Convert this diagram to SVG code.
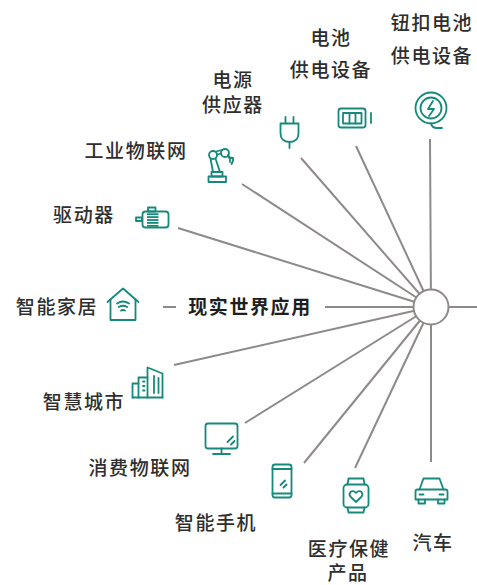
<svg xmlns="http://www.w3.org/2000/svg" width="477" height="585" viewBox="0 0 477 585">
<style>
.lbl{font-family:"Noto Sans CJK SC","Noto Sans",sans-serif;font-size:19px;font-weight:500;fill:#2e2e2e;text-anchor:middle;letter-spacing:1.6px}
.main{font-weight:bold;fill:#1e1e1e}
.ic{fill:none;stroke:#16897a;stroke-width:1.8;stroke-linecap:round;stroke-linejoin:round}
.icf{fill:#16897a;stroke:none}
.cn{stroke:#8e8a89;stroke-width:2;fill:none}
</style>
<rect width="477" height="585" fill="#ffffff"/>
<g id="connectors">
<line class="cn" x1="430" y1="139" x2="431" y2="307"/>
<line class="cn" x1="356" y1="146" x2="431" y2="307"/>
<line class="cn" x1="301" y1="158" x2="431" y2="307"/>
<line class="cn" x1="242" y1="184" x2="431" y2="307"/>
<line class="cn" x1="178" y1="228" x2="431" y2="307"/>
<line class="cn" x1="325" y1="307" x2="431" y2="307"/>
<line class="cn" x1="163" y1="307" x2="176" y2="307"/>
<line class="cn" x1="174" y1="365" x2="431" y2="307"/>
<line class="cn" x1="245" y1="423" x2="431" y2="307"/>
<line class="cn" x1="304" y1="463" x2="431" y2="307"/>
<line class="cn" x1="355" y1="468" x2="431" y2="307"/>
<line class="cn" x1="431" y1="462" x2="431" y2="307"/>
<line class="cn" x1="477" y1="307" x2="431" y2="307"/>
</g>
<g id="center">
<circle cx="431" cy="307" r="17.5" fill="#ffffff" stroke="#8e8a89" stroke-width="2"/>
</g>
<g id="main-label">
<text class="lbl main" x="250" y="314">现实世界应用</text>
</g>
<g id="node-coin">
<text class="lbl" x="432" y="30">钮扣电池</text>
<text class="lbl" x="432" y="63">供电设备</text>
<circle class="ic" cx="431" cy="108" r="15.5"/>
<circle class="ic" cx="431" cy="108" r="10.5"/>
<path class="ic" d="M433,101 L428,109 L434,109 L429,116"/>
<path class="ic" d="M431,123.5 Q432,128 437,128 L442,128"/>
</g>
<g id="node-battery">
<text class="lbl" x="331" y="45">电池</text>
<text class="lbl" x="331" y="77">供电设备</text>
<rect class="ic" x="338.5" y="108.5" width="27" height="19" rx="2.5"/>
<rect class="ic" x="343" y="113" width="18.5" height="10.5"/>
<line class="ic" x1="349.5" y1="113" x2="349.5" y2="123.5"/>
<line class="ic" x1="355.5" y1="113" x2="355.5" y2="123.5"/>
<line class="ic" x1="371" y1="113" x2="371" y2="123"/>
</g>
<g id="node-power">
<text class="lbl" x="233" y="87">电源</text>
<text class="lbl" x="233" y="112">供应器</text>
<line class="ic" x1="285.5" y1="117" x2="285.5" y2="123"/>
<line class="ic" x1="293.5" y1="117" x2="293.5" y2="123"/>
<path class="ic" d="M280.5,123.5 L298.5,123.5 L298.5,133 Q298.5,142 289.5,142 Q280.5,142 280.5,133 Z"/>
<line class="ic" x1="289.5" y1="142" x2="289.5" y2="148"/>
</g>
<g id="node-iiot">
<text class="lbl" x="136" y="158">工业物联网</text>
<rect class="ic" x="208.5" y="176.5" width="17.5" height="5.5"/>
<rect class="ic" x="211.5" y="172" width="11" height="4.5"/>
<circle class="ic" cx="213" cy="155" r="4"/>
<circle class="ic" cx="225" cy="153" r="4"/>
<line class="ic" x1="217" y1="154.5" x2="221" y2="153.5"/>
<line class="ic" x1="216" y1="151.5" x2="222" y2="150"/>
<line class="ic" x1="210.5" y1="158.5" x2="213" y2="172"/>
<line class="ic" x1="215.5" y1="158.5" x2="220" y2="172"/>
<path class="ic" d="M228,155 L230,158 L230,162 M228.5,157.5 L233,158 L233,161 L231.5,164"/>
</g>
<g id="node-drive">
<text class="lbl" x="84" y="222">驱动器</text>
<rect class="ic" x="142.5" y="211.5" width="26" height="16" rx="3"/>
<rect class="ic" x="148" y="207.5" width="7.5" height="4"/>
<rect class="ic" x="136" y="217.5" width="6" height="3.5"/>
<rect class="icf" x="147" y="213.3" width="11.5" height="1.8"/>
<rect class="icf" x="147" y="216.2" width="11.5" height="1.8"/>
<rect class="icf" x="147" y="219.1" width="11.5" height="1.8"/>
<rect class="icf" x="147" y="222" width="11.5" height="1.8"/>
<rect class="icf" x="147" y="224.9" width="11.5" height="1.8"/>
</g>
<g id="node-home">
<text class="lbl" x="57" y="314">智能家居</text>
<path class="ic" d="M107.5,302 L123,288.5 L138.5,302"/>
<path class="ic" d="M110.5,299.5 L110.5,320 L135.5,320 L135.5,299.5"/>
<path class="ic" d="M117,303.5 Q123,299.5 129,303.5"/>
<path class="ic" d="M118.8,307 Q123,304.5 127.2,307"/>
<path class="ic" d="M121,310.5 Q123,309.5 125,310.5"/>
</g>
<g id="node-city">
<text class="lbl" x="84" y="409">智慧城市</text>
<path class="ic" d="M147.5,397.5 L147.5,367.5 L162.5,373.5 L162.5,397.5"/>
<path class="ic" d="M138.5,397.5 L138.5,377.5 L147.5,377.5"/>
<path class="ic" d="M132.5,397.5 L132.5,383.5 L138.5,383.5"/>
<line class="ic" x1="132.5" y1="397.5" x2="162.5" y2="397.5"/>
<line class="ic" x1="143" y1="381.5" x2="144.5" y2="381.5"/>
<line class="ic" x1="143" y1="386" x2="144.5" y2="386"/>
<line class="ic" x1="143" y1="390.5" x2="144.5" y2="390.5"/>
<line class="ic" x1="154" y1="376" x2="154" y2="393" stroke-width="2.2"/>
<line class="ic" x1="158.5" y1="378" x2="158.5" y2="393" stroke-width="2.2"/>
</g>
<g id="node-consumer">
<text class="lbl" x="140" y="475">消费物联网</text>
<rect class="ic" x="205.5" y="423.5" width="32" height="25" rx="2.5"/>
<line class="ic" x1="221.5" y1="448.5" x2="221.5" y2="453"/>
<line class="ic" x1="213" y1="454" x2="230" y2="454" stroke-width="2.2"/>
<line class="ic" x1="227.5" y1="442" x2="233" y2="436.5"/>
<line class="ic" x1="231" y1="444.5" x2="234.5" y2="441"/>
</g>
<g id="node-phone">
<text class="lbl" x="216" y="530">智能手机</text>
<rect class="ic" x="272.5" y="464.5" width="19" height="33" rx="2.5"/>
<line class="ic" x1="272.5" y1="469" x2="291.5" y2="469"/>
<line class="ic" x1="272.5" y1="493.5" x2="291.5" y2="493.5"/>
<line class="ic" x1="280.5" y1="485" x2="285" y2="480.5"/>
<line class="ic" x1="283.5" y1="487.5" x2="286.5" y2="484.5"/>
</g>
<g id="node-health">
<text class="lbl" x="349" y="556">医疗保健</text>
<text class="lbl" x="348" y="580">产品</text>
<path class="ic" d="M347.5,484.5 L348.5,478.5 L363.5,478.5 L364.5,484.5"/>
<path class="ic" d="M347.5,507.5 L348.5,512.5 L363.5,512.5 L364.5,507.5"/>
<rect class="ic" x="343.5" y="484.5" width="25" height="23" rx="3.5"/>
<path class="ic" d="M356,502 L350.8,497 Q348.5,494.5 350.5,492 Q353.2,489.8 356,492.8 Q358.8,489.8 361.5,492 Q363.5,494.5 361.2,497 Z"/>
</g>
<g id="node-car">
<text class="lbl" x="433" y="550">汽车</text>
<path class="ic" d="M419.5,489.5 L423.5,478.5 L439.5,478.5 L443.5,489.5"/>
<path class="ic" d="M417.5,489.5 L445.5,489.5 Q447.5,489.5 447.5,491.5 L447.5,499.5 L415.5,499.5 L415.5,491.5 Q415.5,489.5 417.5,489.5 Z"/>
<path class="ic" d="M418.5,499.5 L418.5,503.5 L425,503.5 L425,499.5"/>
<path class="ic" d="M438,499.5 L438,503.5 L444.5,503.5 L444.5,499.5"/>
<line class="ic" x1="419.5" y1="494.5" x2="423.5" y2="494.5" stroke-width="2.2"/>
<line class="ic" x1="439.5" y1="494.5" x2="443.5" y2="494.5" stroke-width="2.2"/>
</g>
</svg>
